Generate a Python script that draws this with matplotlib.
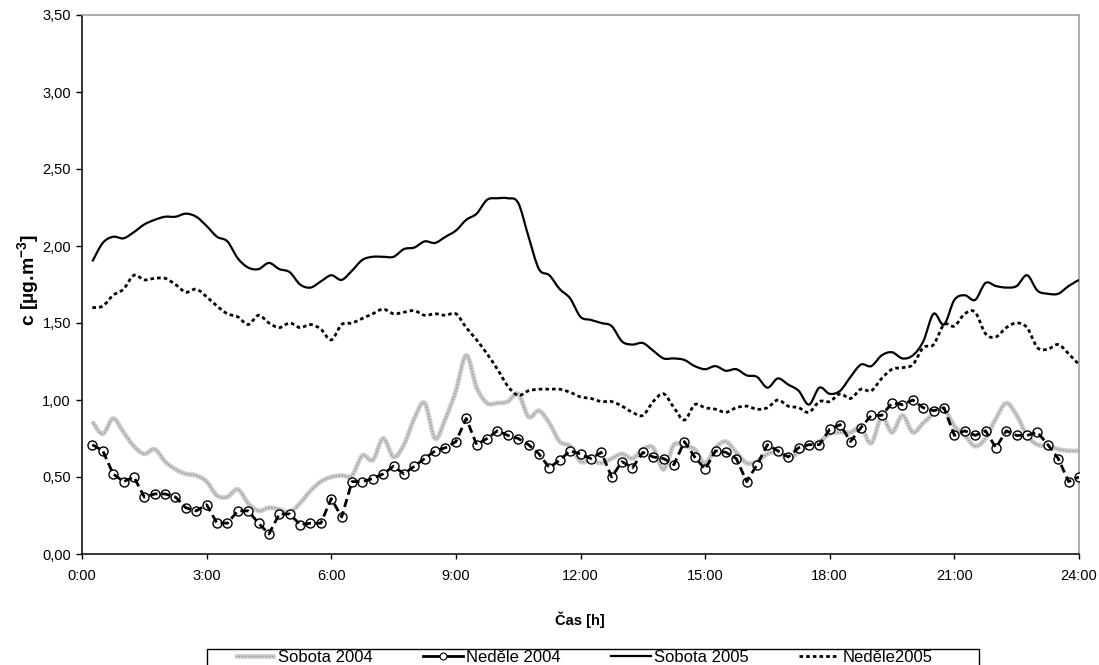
import numpy as np
import matplotlib
matplotlib.use("Agg")
import matplotlib.pyplot as plt
from matplotlib.lines import Line2D
from matplotlib.patches import Rectangle, PathPatch
from matplotlib.path import Path

plt.rcParams['font.family'] = ['Liberation Sans', 'DejaVu Sans']
plt.rcParams['mathtext.fontset'] = 'custom'
plt.rcParams['mathtext.rm'] = 'Liberation Sans'
plt.rcParams['mathtext.bf'] = 'Liberation Sans:bold'

# casove kroky po 15 minutach (0:15 .. 24:00)
cas = np.arange(1, 97) * 0.25

sobota_2004 = [0.86, 0.78, 0.88, 0.79, 0.70, 0.65, 0.68, 0.60, 0.55, 0.52, 0.51, 0.47,
               0.38, 0.37, 0.42, 0.33, 0.28, 0.30, 0.29, 0.27, 0.33, 0.41, 0.47, 0.50,
               0.51, 0.51, 0.64, 0.61, 0.75, 0.63, 0.71, 0.88, 0.98, 0.75, 0.88, 1.06,
               1.29, 1.08, 0.98, 0.98, 0.99, 1.04, 0.89, 0.93, 0.85, 0.73, 0.70, 0.60,
               0.61, 0.59, 0.62, 0.65, 0.62, 0.68, 0.69, 0.55, 0.71, 0.70, 0.68, 0.59,
               0.69, 0.73, 0.66, 0.59, 0.60, 0.65, 0.66, 0.62, 0.66, 0.70, 0.73, 0.78,
               0.79, 0.79, 0.82, 0.72, 0.89, 0.79, 0.90, 0.79, 0.85, 0.91, 0.94, 0.83,
               0.77, 0.70, 0.75, 0.88, 0.98, 0.90, 0.77, 0.71, 0.70, 0.68, 0.67, 0.67]

nedele_2004 = [0.71, 0.67, 0.52, 0.47, 0.50, 0.37, 0.39, 0.39, 0.37, 0.30, 0.28, 0.32,
               0.20, 0.20, 0.28, 0.28, 0.20, 0.13, 0.26, 0.26, 0.19, 0.20, 0.20, 0.36,
               0.24, 0.47, 0.47, 0.49, 0.52, 0.57, 0.52, 0.57, 0.62, 0.67, 0.69, 0.73,
               0.88, 0.71, 0.75, 0.80, 0.77, 0.75, 0.71, 0.65, 0.56, 0.61, 0.67, 0.65,
               0.62, 0.66, 0.50, 0.60, 0.56, 0.66, 0.63, 0.62, 0.58, 0.73, 0.63, 0.55,
               0.67, 0.66, 0.62, 0.47, 0.58, 0.71, 0.67, 0.63, 0.69, 0.71, 0.71, 0.81,
               0.84, 0.73, 0.82, 0.90, 0.90, 0.98, 0.97, 1.00, 0.95, 0.93, 0.95, 0.77,
               0.80, 0.77, 0.80, 0.69, 0.80, 0.77, 0.77, 0.79, 0.71, 0.62, 0.47, 0.50]

sobota_2005 = [1.90, 2.02, 2.06, 2.05, 2.09, 2.14, 2.17, 2.19, 2.19, 2.21, 2.19, 2.13,
               2.06, 2.03, 1.92, 1.86, 1.85, 1.89, 1.85, 1.83, 1.75, 1.73, 1.77, 1.81,
               1.78, 1.84, 1.91, 1.93, 1.93, 1.93, 1.98, 1.99, 2.03, 2.02, 2.06, 2.10,
               2.17, 2.21, 2.30, 2.31, 2.31, 2.28, 2.06, 1.85, 1.81, 1.72, 1.66, 1.54,
               1.52, 1.50, 1.48, 1.38, 1.36, 1.37, 1.32, 1.27, 1.27, 1.26, 1.22, 1.20,
               1.22, 1.19, 1.20, 1.16, 1.15, 1.08, 1.14, 1.10, 1.06, 0.97, 1.08, 1.04,
               1.06, 1.15, 1.23, 1.22, 1.29, 1.31, 1.27, 1.29, 1.38, 1.56, 1.49, 1.65,
               1.68, 1.65, 1.76, 1.74, 1.73, 1.74, 1.81, 1.71, 1.69, 1.69, 1.74, 1.78]

nedele_2005 = [1.60, 1.61, 1.68, 1.72, 1.81, 1.78, 1.79, 1.79, 1.75, 1.70, 1.72, 1.67,
               1.61, 1.56, 1.54, 1.49, 1.55, 1.50, 1.47, 1.50, 1.47, 1.49, 1.46, 1.39,
               1.49, 1.50, 1.53, 1.56, 1.59, 1.56, 1.57, 1.58, 1.55, 1.56, 1.55, 1.56,
               1.47, 1.39, 1.30, 1.20, 1.09, 1.03, 1.06, 1.07, 1.07, 1.07, 1.05, 1.02,
               1.01, 0.99, 0.99, 0.96, 0.92, 0.90, 0.99, 1.04, 0.95, 0.87, 0.97, 0.95,
               0.94, 0.92, 0.95, 0.96, 0.94, 0.95, 1.00, 0.96, 0.95, 0.92, 0.99, 0.99,
               1.04, 1.01, 1.07, 1.06, 1.14, 1.20, 1.21, 1.23, 1.34, 1.36, 1.49, 1.48,
               1.56, 1.57, 1.43, 1.41, 1.47, 1.50, 1.47, 1.34, 1.33, 1.36, 1.30, 1.23]

x_ticks = [0, 3, 6, 9, 12, 15, 18, 21, 24]
x_labels = ['0:00', '3:00', '6:00', '9:00', '12:00', '15:00', '18:00', '21:00', '24:00']
y_ticks = [0.0, 0.5, 1.0, 1.5, 2.0, 2.5, 3.0, 3.5]
y_labels = ['0,00', '0,50', '1,00', '1,50', '2,00', '2,50', '3,00', '3,50']


def smooth_path(x, y):
    # vyhlazena cara jako v Excelu (Catmull-Rom -> Bezier)
    p = np.column_stack([x, y]).astype(float)
    ext = np.vstack([p[0], p, p[-1]])
    verts = [p[0]]
    codes = [Path.MOVETO]
    for i in range(len(p) - 1):
        p0, p1, p2, p3 = ext[i], ext[i + 1], ext[i + 2], ext[i + 3]
        verts += [p1 + (p2 - p0) / 6, p2 - (p3 - p1) / 6, p2]
        codes += [Path.CURVE4] * 3
    return Path(verts, codes)


def smooth_line(ax, x, y, **kw):
    patch = PathPatch(smooth_path(x, y), fill=False, **kw)
    ax.add_patch(patch)
    return patch


W, H = 1099, 665
fig = plt.figure(figsize=(W / 100, H / 100), dpi=100)
ax = fig.add_axes([82 / W, 1 - 554 / H, (1079 - 82) / W, (554 - 15) / H])

# Sobota 2004 - siva "vzorkovana" cara
smooth_line(ax, cas, sobota_2004, edgecolor='#cdcdcd', lw=3.4, capstyle='butt', zorder=2)
smooth_line(ax, cas, sobota_2004, edgecolor='#959595', lw=1.0,
            linestyle=(0, (1, 1.2)), zorder=2.1)

# Nedele 2004 - prerusovana cara s kolecky (cara pres znacky)
ax.plot(cas, nedele_2004, ls='none', marker='o', ms=6.5, mfc='white', mec='black',
        mew=1.0, zorder=3)
ax.plot(cas, nedele_2004, color='black', lw=2.0, dashes=(3, 1.6), zorder=3.5)

# Sobota 2005 - plna cara
smooth_line(ax, cas, sobota_2005, edgecolor='black', lw=1.6, zorder=4)

# Nedele 2005 - teckovana cara
smooth_line(ax, cas, nedele_2005, edgecolor='black', lw=2.0,
            linestyle=(0, (1.3, 1.1)), capstyle='butt', zorder=4)

ax.set_xlim(0, 24)
ax.set_ylim(0, 3.5)
ax.set_xticks(x_ticks)
ax.set_xticklabels(x_labels)
ax.set_yticks(y_ticks)
ax.set_yticklabels(y_labels)
ax.tick_params(axis='x', direction='out', length=3.5, width=1, pad=7, labelsize=10.5)
ax.tick_params(axis='y', direction='out', length=4, width=1, pad=4, labelsize=10.5)

for s in ['left', 'bottom']:
    ax.spines[s].set_color('black')
    ax.spines[s].set_linewidth(1.1)
for s in ['top', 'right']:
    ax.spines[s].set_color('#a0a0a0')
    ax.spines[s].set_linewidth(1.2)

fig.text(580 / W, 1 - 620 / H, 'Čas [h]', ha='center', va='center',
         fontsize=10.5, fontweight='bold')
fig.text(29 / W, 1 - 280 / H, r'c [µg.m$^{\mathbf{-3}}$]', ha='center', va='center',
         rotation=90, fontsize=14, fontweight='bold')

# legenda
h_so04a = Line2D([], [], color='#cdcdcd', lw=3.4, solid_capstyle='butt')
h_so04b = Line2D([], [], color='#959595', lw=1.0, dashes=(1, 1.2))
h_ne04 = Line2D([], [], color='black', lw=2.0, marker='o', ms=5, mfc='white',
                mec='black', mew=0.8)
h_so05 = Line2D([], [], color='black', lw=1.6)
h_ne05 = Line2D([], [], color='black', lw=2.0, dashes=(1.3, 1.1))
fig.legend([(h_so04a, h_so04b), h_ne04, h_so05, h_ne05],
           ['Sobota 2004', 'Neděle 2004', 'Sobota 2005', 'Neděle2005'],
           loc='center left', bbox_to_anchor=(235 / W, 1 - 657 / H), ncol=4,
           frameon=False, fontsize=12, handlelength=2.4, handletextpad=0.2,
           columnspacing=3.0, borderpad=0, borderaxespad=0)
fig.add_artist(Rectangle((207 / W, -0.05), (979 - 207) / W, 0.05 + (1 - 649 / H),
                         transform=fig.transFigure, fill=False, edgecolor='black', lw=1.0))

fig.savefig('out.png', dpi=100)
